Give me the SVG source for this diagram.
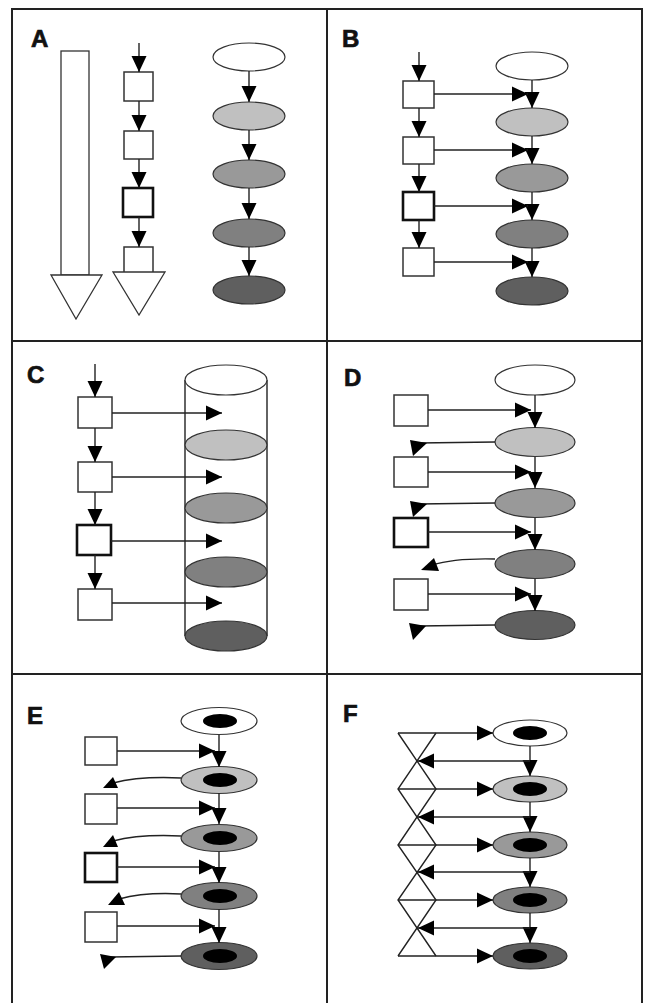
<svg xmlns="http://www.w3.org/2000/svg" width="645" height="1003" viewBox="0 0 645 1003">
<style>
.frame{fill:none;stroke:#222;stroke-width:2}
.lbl{font-family:"Liberation Sans",Arial,sans-serif;font-weight:bold;font-size:24px;fill:#111;stroke:#111;stroke-width:0.7}
.box{fill:#fff;stroke:#333;stroke-width:1.5}
.thick{fill:#fff;stroke:#111;stroke-width:2.6}
.shape{fill:#fff;stroke:#333;stroke-width:1.3}
.e0{fill:#fff;stroke:#333;stroke-width:1.2}
.e1{fill:#c0c0c0;stroke:#333;stroke-width:1.2}
.e2{fill:#999;stroke:#333;stroke-width:1.2}
.e3{fill:#808080;stroke:#333;stroke-width:1.2}
.e4{fill:#5f5f5f;stroke:#333;stroke-width:1.2}
.core{fill:#000}
.cn{fill:none;stroke:#222;stroke-width:1.4}
.ca{fill:none;stroke:#222;stroke-width:1.4;marker-end:url(#ah)}
.hd{fill:#000}
</style>
<defs>
<marker id="ah" viewBox="0 0 16 16" refX="16" refY="8" markerWidth="16" markerHeight="16" markerUnits="userSpaceOnUse" orient="auto"><path d="M0,0.5 L16,8 L0,15.5z" fill="#000"/></marker>
</defs>

<g id="frame">
<rect class="frame" x="12" y="9" width="630" height="1000"/>
<line class="frame" x1="327" y1="9" x2="327" y2="1003"/>
<line class="frame" x1="12" y1="341" x2="642" y2="341"/>
<line class="frame" x1="12" y1="674" x2="642" y2="674"/>
</g>

<!-- Panel A -->
<g id="panelA">
<text class="lbl" x="31" y="47">A</text>
<g id="A-bar"><rect class="shape" x="61" y="51" width="28" height="224"/><polygon class="shape" points="51,275 102,275 76,319"/></g>
<g id="A-b1"><rect class="box" x="124" y="72" width="29" height="29"/></g>
<g id="A-b2"><rect class="box" x="124" y="131" width="29" height="28"/></g>
<g id="A-b3"><rect class="thick" x="123" y="188" width="30" height="29"/></g>
<g id="A-b4"><rect class="box" x="124" y="247" width="29" height="27"/><polygon class="shape" points="113,272 165,272 139,315"/></g>
<g id="A-e1"><ellipse class="e0" cx="249" cy="57" rx="36" ry="14"/></g>
<g id="A-e2"><ellipse class="e1" cx="249" cy="116" rx="36" ry="14"/></g>
<g id="A-e3"><ellipse class="e2" cx="249" cy="174" rx="36" ry="14"/></g>
<g id="A-e4"><ellipse class="e3" cx="249" cy="233" rx="36" ry="14"/></g>
<g id="A-e5"><ellipse class="e4" cx="249" cy="290" rx="36" ry="14"/></g>
</g>

<!-- Panel B -->
<g id="panelB">
<text class="lbl" x="342" y="47">B</text>
<g id="B-b1"><rect class="box" x="403" y="81" width="31" height="27"/></g>
<g id="B-b2"><rect class="box" x="403" y="137" width="31" height="27"/></g>
<g id="B-b3"><rect class="thick" x="403" y="192" width="31" height="28"/></g>
<g id="B-b4"><rect class="box" x="403" y="248" width="31" height="28"/></g>
<g id="B-e1"><ellipse class="e0" cx="532" cy="66" rx="36" ry="14"/></g>
<g id="B-e2"><ellipse class="e1" cx="532" cy="122" rx="36" ry="14"/></g>
<g id="B-e3"><ellipse class="e2" cx="532" cy="178" rx="36" ry="14"/></g>
<g id="B-e4"><ellipse class="e3" cx="532" cy="234" rx="36" ry="14"/></g>
<g id="B-e5"><ellipse class="e4" cx="532" cy="291" rx="36" ry="14"/></g>
</g>

<!-- Panel C -->
<g id="panelC">
<text class="lbl" x="27" y="383">C</text>
<g id="C-b1"><rect class="box" x="78" y="397" width="34" height="31"/></g>
<g id="C-b2"><rect class="box" x="78" y="462" width="34" height="30"/></g>
<g id="C-b3"><rect class="thick" x="77" y="525" width="34" height="30"/></g>
<g id="C-b4"><rect class="box" x="78" y="589" width="34" height="31"/></g>
<g id="C-cyl">
<line class="cn" x1="185" y1="380" x2="185" y2="636"/>
<line class="cn" x1="267" y1="380" x2="267" y2="636"/>
<ellipse class="e0" cx="226" cy="380" rx="41" ry="15"/>
<ellipse class="e1" cx="226" cy="445" rx="41" ry="15"/>
<ellipse class="e2" cx="226" cy="508" rx="41" ry="15"/>
<ellipse class="e3" cx="226" cy="572" rx="41" ry="15"/>
<ellipse class="e4" cx="226" cy="636" rx="41" ry="15"/>
</g>
</g>

<!-- Panel D -->
<g id="panelD">
<text class="lbl" x="344" y="386">D</text>
<g id="D-b1"><rect class="box" x="394" y="395" width="34" height="31"/></g>
<g id="D-b2"><rect class="box" x="394" y="457" width="34" height="30"/></g>
<g id="D-b3"><rect class="thick" x="394" y="518" width="34" height="29"/></g>
<g id="D-b4"><rect class="box" x="394" y="579" width="34" height="31"/></g>
<g id="D-e1"><ellipse class="e0" cx="535" cy="380" rx="40" ry="15"/></g>
<g id="D-e2"><ellipse class="e1" cx="535" cy="442" rx="40" ry="14.5"/></g>
<g id="D-e3"><ellipse class="e2" cx="535" cy="503" rx="40" ry="14.5"/></g>
<g id="D-e4"><ellipse class="e3" cx="535" cy="564" rx="40" ry="14.5"/></g>
<g id="D-e5"><ellipse class="e4" cx="535" cy="625" rx="40" ry="14.5"/></g>
</g>

<!-- Panel E -->
<g id="panelE">
<text class="lbl" x="27" y="724">E</text>
<g id="E-b1"><rect class="box" x="85" y="737" width="32" height="28"/></g>
<g id="E-b2"><rect class="box" x="85" y="794" width="32" height="30"/></g>
<g id="E-b3"><rect class="thick" x="85" y="853" width="32" height="29"/></g>
<g id="E-b4"><rect class="box" x="85" y="912" width="32" height="30"/></g>
<g id="E-e1"><ellipse class="e0" cx="219" cy="721" rx="38" ry="13.5"/><ellipse class="core" cx="220" cy="721" rx="17" ry="7"/></g>
<g id="E-e2"><ellipse class="e1" cx="219" cy="780" rx="38" ry="13.5"/><ellipse class="core" cx="220" cy="780" rx="17" ry="7"/></g>
<g id="E-e3"><ellipse class="e2" cx="219" cy="838" rx="38" ry="13.5"/><ellipse class="core" cx="220" cy="838" rx="17" ry="7"/></g>
<g id="E-e4"><ellipse class="e3" cx="219" cy="896" rx="38" ry="13.5"/><ellipse class="core" cx="220" cy="896" rx="17" ry="7"/></g>
<g id="E-e5"><ellipse class="e4" cx="219" cy="956" rx="38" ry="13.5"/><ellipse class="core" cx="220" cy="956" rx="17" ry="7"/></g>
</g>

<!-- Panel F -->
<g id="panelF">
<text class="lbl" x="343" y="722">F</text>
<g id="F-chain">
<path class="cn" d="M398,733 L436,789 L398,845 L436,900 L398,956"/>
<path class="cn" d="M436,733 L398,789 L436,845 L398,900 L436,956"/>
<path class="cn" d="M398,733 H436 M398,789 H436 M398,845 H436 M398,900 H436 M398,956 H436"/>
</g>
<g id="F-e1"><ellipse class="e0" cx="530" cy="733" rx="37" ry="13"/><ellipse class="core" cx="530" cy="733" rx="17" ry="7"/></g>
<g id="F-e2"><ellipse class="e1" cx="530" cy="789" rx="37" ry="13"/><ellipse class="core" cx="530" cy="789" rx="17" ry="7"/></g>
<g id="F-e3"><ellipse class="e2" cx="530" cy="845" rx="37" ry="13"/><ellipse class="core" cx="530" cy="845" rx="17" ry="7"/></g>
<g id="F-e4"><ellipse class="e3" cx="530" cy="900" rx="37" ry="13"/><ellipse class="core" cx="530" cy="900" rx="17" ry="7"/></g>
<g id="F-e5"><ellipse class="e4" cx="530" cy="956" rx="37" ry="13"/><ellipse class="core" cx="530" cy="956" rx="17" ry="7"/></g>
</g>

<g id="connectors">
<!-- A -->
<path class="ca" d="M139,43 V72"/>
<path class="ca" d="M139,101 V131"/>
<path class="ca" d="M139,159 V188"/>
<path class="ca" d="M139,217 V247"/>
<path class="ca" d="M249,71 V102"/>
<path class="ca" d="M249,130 V160"/>
<path class="ca" d="M249,188 V219"/>
<path class="ca" d="M249,247 V276"/>
<!-- B -->
<path class="ca" d="M419,52 V81"/>
<path class="ca" d="M419,108 V137"/>
<path class="ca" d="M419,164 V192"/>
<path class="ca" d="M419,220 V248"/>
<path class="ca" d="M532,80 V108"/>
<path class="ca" d="M532,136 V164"/>
<path class="ca" d="M532,192 V220"/>
<path class="ca" d="M532,248 V277"/>
<path class="ca" d="M434,94 H528"/>
<path class="ca" d="M434,150 H528"/>
<path class="ca" d="M434,206 H528"/>
<path class="ca" d="M434,262 H528"/>
<!-- C -->
<path class="ca" d="M95,364 V397"/>
<path class="ca" d="M95,428 V462"/>
<path class="ca" d="M95,492 V525"/>
<path class="ca" d="M95,555 V589"/>
<path class="ca" d="M112,413 H222"/>
<path class="ca" d="M112,477 H222"/>
<path class="ca" d="M111,541 H222"/>
<path class="ca" d="M112,603 H222"/>
<!-- D -->
<path class="ca" d="M535,395 V428"/>
<path class="ca" d="M535,457 V488"/>
<path class="ca" d="M535,518 V550"/>
<path class="ca" d="M535,579 V611"/>
<path class="ca" d="M428,410 H531"/>
<path class="ca" d="M428,472 H531"/>
<path class="ca" d="M428,532 H531"/>
<path class="ca" d="M428,594 H531"/>
<path class="cn" d="M495,442 L418,443"/>
<polygon class="hd" points="410,440 427,443 413,456"/>
<path class="cn" d="M495,503 L418,504"/>
<polygon class="hd" points="410,501 427,504 413,517"/>
<path class="cn" d="M495,559 Q455,558 432,565"/>
<polygon class="hd" points="421,570 434,558 439,571"/>
<path class="cn" d="M495,625 L418,626"/>
<polygon class="hd" points="409,623 426,626 413,640"/>
<!-- E -->
<path class="ca" d="M219,735 V767"/>
<path class="ca" d="M219,793 V824"/>
<path class="ca" d="M219,852 V883"/>
<path class="ca" d="M219,909 V943"/>
<path class="ca" d="M117,751 H215"/>
<path class="ca" d="M117,808 H215"/>
<path class="ca" d="M117,867 H215"/>
<path class="ca" d="M117,926 H215"/>
<path class="cn" d="M181,778 Q140,776 113,783"/>
<polygon class="hd" points="103,788 113,777 118,788"/>
<path class="cn" d="M181,836 Q140,834 113,841"/>
<polygon class="hd" points="103,847 113,835 118,847"/>
<path class="cn" d="M181,894 Q145,892 119,899"/>
<polygon class="hd" points="108,905 119,892 125,905"/>
<path class="cn" d="M181,956 L110,957"/>
<polygon class="hd" points="100,954 116,957 104,969"/>
<!-- F -->
<path class="ca" d="M530,746 V776"/>
<path class="ca" d="M530,802 V832"/>
<path class="ca" d="M530,858 V887"/>
<path class="ca" d="M530,913 V943"/>
<path class="ca" d="M436,733 H493"/>
<path class="ca" d="M436,789 H493"/>
<path class="ca" d="M436,845 H493"/>
<path class="ca" d="M436,900 H493"/>
<path class="ca" d="M436,956 H493"/>
<path class="ca" d="M530,761 H418"/>
<path class="ca" d="M530,817 H418"/>
<path class="ca" d="M530,872 H418"/>
<path class="ca" d="M530,928 H418"/>
</g>
</svg>
